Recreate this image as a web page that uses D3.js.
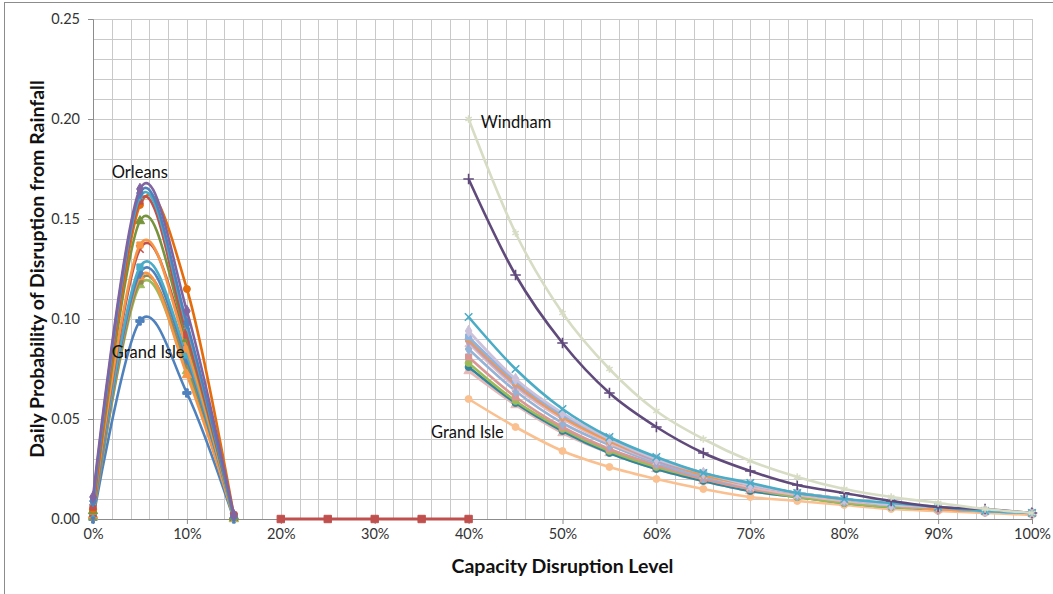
<!DOCTYPE html>
<html lang="en">
<head>
  <meta charset="UTF-8" />
  <title>Daily Probability of Disruption from Rainfall</title>
  <script src="https://d3js.org/d3.v7.min.js"></script>
  <style>
    body { margin: 0; background: #fff; font-family: Lato, "Open Sans", sans-serif; }
    svg { display: block; }
    .tick text { font-size: 14.5px; fill: #333; font-family: Lato, sans-serif; }
    .axis-label { font-weight: bold; fill: #111; }
    .note { font-size: 16.5px; fill: #111; }
  </style>
</head>
<body>

<svg width="1053" height="594"></svg>

<script>
  // capacity disruption levels (fraction)
  const leftLevels  = [0, 0.05, 0.10, 0.15];
  const zeroLevels  = [0.20, 0.25, 0.30, 0.35, 0.40];
  const rightLevels = [0.40, 0.45, 0.50, 0.55, 0.60, 0.65, 0.70, 0.75, 0.80, 0.85, 0.90, 0.95, 1.00];

  const xTicks = [0, 0.1, 0.2, 0.3, 0.4, 0.5, 0.6, 0.7, 0.8, 0.9, 1.0];
  const yTicks = [0, 0.05, 0.10, 0.15, 0.20, 0.25];

  // low-level disruption curves (0% - 15%)
  const leftSeries = [
    {name: "Grand Isle", color: "#4F81BD", marker: "cross",    values: [0.000, 0.099, 0.063, 0.000]},
    {name: "Addison",    color: "#9BBB59", marker: "triangle", values: [0.001, 0.117, 0.074, 0.000]},
    {name: "Bennington", color: "#948A54", marker: "square",   values: [0.001, 0.119, 0.077, 0.001]},
    {name: "Caledonia",  color: "#F79646", marker: "triangle", values: [0.002, 0.121, 0.072, 0.001]},
    {name: "Chittenden", color: "#4F81BD", marker: "diamond",  values: [0.002, 0.123, 0.080, 0.001]},
    {name: "Essex",      color: "#4BACC6", marker: "square",   values: [0.003, 0.126, 0.082, 0.001]},
    {name: "Franklin",   color: "#C0504D", marker: "x",        values: [0.003, 0.135, 0.088, 0.001]},
    {name: "Lamoille",   color: "#F79646", marker: "square",   values: [0.004, 0.137, 0.085, 0.001]},
    {name: "Orange",     color: "#77933C", marker: "triangle", values: [0.004, 0.149, 0.090, 0.001]},
    {name: "Rutland",    color: "#E46C0A", marker: "circle",   values: [0.005, 0.157, 0.115, 0.002]},
    {name: "Washington", color: "#C0504D", marker: "square",   values: [0.006, 0.159, 0.092, 0.002]},
    {name: "Windham",    color: "#4BACC6", marker: "star",     values: [0.008, 0.161, 0.096, 0.001]},
    {name: "Windsor",    color: "#4F81BD", marker: "diamond",  values: [0.009, 0.163, 0.098, 0.001]},
    {name: "Orleans",    color: "#8064A2", marker: "diamond",  values: [0.011, 0.165, 0.104, 0.002]}
  ];

  // flat segment (20% - 40%)
  const zeroValues = [0, 0, 0, 0, 0];

  // high-level disruption curves (40% - 100%)
  const rightSeries = [
    {name: "Grand Isle", color: "#FAC090", marker: "circle",   values: [0.060, 0.046, 0.034, 0.026, 0.020, 0.015, 0.011, 0.009, 0.007, 0.005, 0.004, 0.003, 0.002]},
    {name: "Addison",    color: "#E6B9B8", marker: "triangle", values: [0.074, 0.057, 0.043, 0.033, 0.025, 0.019, 0.014, 0.011, 0.008, 0.006, 0.005, 0.004, 0.003]},
    {name: "Bennington", color: "#31859C", marker: "circle",   values: [0.076, 0.058, 0.044, 0.033, 0.025, 0.019, 0.014, 0.011, 0.008, 0.006, 0.005, 0.004, 0.003]},
    {name: "Caledonia",  color: "#9BBB59", marker: "circle",   values: [0.078, 0.059, 0.045, 0.034, 0.026, 0.020, 0.015, 0.011, 0.008, 0.006, 0.005, 0.004, 0.003]},
    {name: "Chittenden", color: "#D99694", marker: "square",   values: [0.081, 0.061, 0.046, 0.035, 0.027, 0.020, 0.015, 0.012, 0.009, 0.007, 0.005, 0.004, 0.003]},
    {name: "Essex",      color: "#95B3D7", marker: "diamond",  values: [0.085, 0.064, 0.048, 0.037, 0.028, 0.021, 0.016, 0.012, 0.009, 0.007, 0.005, 0.004, 0.003]},
    {name: "Franklin",   color: "#E6B9B8", marker: "x",        values: [0.088, 0.066, 0.050, 0.038, 0.029, 0.022, 0.016, 0.012, 0.009, 0.007, 0.005, 0.004, 0.003]},
    {name: "Lamoille",   color: "#B3A2C7", marker: "diamond",  values: [0.089, 0.067, 0.051, 0.039, 0.029, 0.022, 0.017, 0.013, 0.010, 0.007, 0.005, 0.004, 0.003]},
    {name: "Orange",     color: "#F79646", marker: "circle",   values: [0.090, 0.068, 0.051, 0.039, 0.030, 0.022, 0.017, 0.013, 0.010, 0.007, 0.005, 0.004, 0.003]},
    {name: "Orleans",    color: "#8EB4E3", marker: "square",   values: [0.091, 0.069, 0.052, 0.040, 0.030, 0.023, 0.017, 0.013, 0.010, 0.007, 0.006, 0.004, 0.003]},
    {name: "Rutland",    color: "#CCC1DA", marker: "diamond",  values: [0.094, 0.070, 0.053, 0.040, 0.030, 0.023, 0.017, 0.013, 0.010, 0.007, 0.006, 0.004, 0.003]},
    {name: "Washington", color: "#4BACC6", marker: "x",        values: [0.101, 0.075, 0.055, 0.041, 0.031, 0.023, 0.018, 0.013, 0.010, 0.008, 0.006, 0.004, 0.003]},
    {name: "Windsor",    color: "#604A7B", marker: "plus",     values: [0.170, 0.122, 0.088, 0.063, 0.046, 0.033, 0.024, 0.017, 0.013, 0.009, 0.006, 0.005, 0.003]},
    {name: "Windham",    color: "#D7DCC4", marker: "star",     values: [0.200, 0.143, 0.103, 0.075, 0.054, 0.040, 0.029, 0.021, 0.015, 0.011, 0.008, 0.005, 0.003]}
  ];

  const notes = [
    {text: "Orleans",    x: 0.020, y: 0.1705},
    {text: "Grand Isle", x: 0.020, y: 0.0805},
    {text: "Windham",    x: 0.413, y: 0.1955},
    {text: "Grand Isle", x: 0.360, y: 0.0405}
  ];

  const svg = d3.select("svg"),
        margin = {top: 19, right: 21, bottom: 75, left: 93},
        width = +svg.attr("width") - margin.left - margin.right,
        height = +svg.attr("height") - margin.top - margin.bottom;

  // chart frame
  svg.append("rect")
     .attr("x", 4.5).attr("y", 2.5)
     .attr("width", 1060).attr("height", 620)
     .attr("fill", "none")
     .attr("stroke", "#8c8c8c");

  const g = svg.append("g").attr("transform", `translate(${margin.left},${margin.top})`);

  const x = d3.scaleLinear().domain([0, 1]).range([0, width]);
  const y = d3.scaleLinear().domain([0, 0.25]).range([height, 0]);

  // gridlines (minor every 2% / 0.01)
  g.append("g")
   .selectAll("line")
   .data(d3.range(0, 51).map(i => i * 0.02))
   .join("line")
   .attr("x1", d => Math.round(x(d)) + 0.5).attr("x2", d => Math.round(x(d)) + 0.5)
   .attr("y1", 0).attr("y2", height)
   .attr("stroke", "#c9c9c9");

  g.append("g")
   .selectAll("line")
   .data(d3.range(0, 26).map(i => i * 0.01))
   .join("line")
   .attr("y1", d => Math.round(y(d)) + 0.5).attr("y2", d => Math.round(y(d)) + 0.5)
   .attr("x1", 0).attr("x2", width)
   .attr("stroke", "#c9c9c9");

  // axes
  const yAxis = g.append("g")
     .call(d3.axisLeft(y).tickValues(yTicks).tickFormat(d3.format(".2f")).tickSize(5).tickPadding(8));
  const xAxis = g.append("g")
     .attr("transform", `translate(0,${height})`)
     .call(d3.axisBottom(x).tickValues(xTicks).tickFormat(d3.format(".0%")).tickSize(5).tickPadding(5));
  [xAxis, yAxis].forEach(a => {
    a.select(".domain").attr("stroke", "#8c8c8c");
    a.selectAll(".tick line").attr("stroke", "#8c8c8c");
  });

  const line = d3.line()
                 .x(d => x(d[0]))
                 .y(d => y(d[1]))
                 .curve(d3.curveCardinal.tension(0));

  const shapes = {
    diamond: d3.symbolDiamond,
    square: d3.symbolSquare,
    triangle: d3.symbolTriangle,
    circle: d3.symbolCircle,
    x: d3.symbolX,
    plus: d3.symbolPlus,
    cross: d3.symbolCross,
    star: d3.symbolAsterisk
  };
  const strokeOnly = new Set(["x", "plus", "star"]);

  function drawSeries(levels, s, size, lw) {
    const pts = levels.map((l, i) => [l, s.values[i]]);
    g.append("path")
     .datum(pts)
     .attr("d", line)
     .attr("fill", "none")
     .attr("stroke", s.color)
     .attr("stroke-width", lw);

    g.append("g")
     .selectAll("path")
     .data(pts)
     .join("path")
     .attr("transform", d => `translate(${x(d[0])},${y(d[1])})`)
     .attr("d", d3.symbol().type(shapes[s.marker]).size(size))
     .attr("fill", strokeOnly.has(s.marker) ? "none" : s.color)
     .attr("stroke", s.color)
     .attr("stroke-width", strokeOnly.has(s.marker) ? 1.6 : 1);
  }

  leftSeries.forEach(s => drawSeries(leftLevels, s, 38, 2.6));
  rightSeries.forEach(s => drawSeries(rightLevels, s, 38, 2.6));
  drawSeries(zeroLevels, {color: "#C0504D", marker: "square", values: zeroValues}, 55, 3);

  // annotations
  g.selectAll(".note")
   .data(notes)
   .join("text")
   .attr("class", "note")
   .attr("x", d => x(d.x))
   .attr("y", d => y(d.y))
   .text(d => d.text);

  // axis titles
  g.append("text")
   .attr("class", "axis-label")
   .attr("x", width / 2)
   .attr("y", height + 54)
   .attr("text-anchor", "middle")
   .style("font-size", "19.5px")
   .text("Capacity Disruption Level");

  g.append("text")
   .attr("class", "axis-label")
   .attr("transform", "rotate(-90)")
   .attr("x", -height / 2)
   .attr("y", -49)
   .attr("text-anchor", "middle")
   .style("font-size", "19.5px")
   .text("Daily Probability of Disruption from Rainfall");
</script>

</body>
</html>
